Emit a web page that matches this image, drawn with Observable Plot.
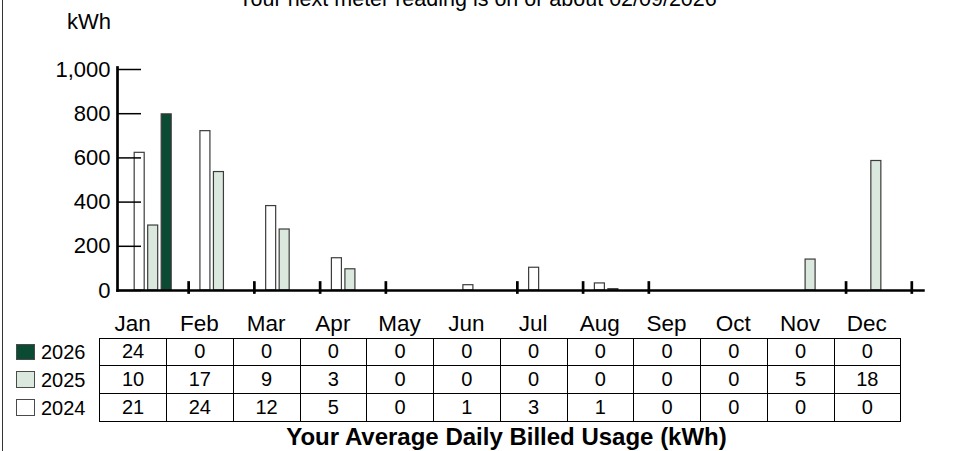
<!DOCTYPE html>
<html><head><meta charset="utf-8">
<script src="https://cdn.jsdelivr.net/npm/d3@7"></script>
<script src="https://cdn.jsdelivr.net/npm/@observablehq/plot@0.6"></script>
<style>
html,body{margin:0;padding:0;background:#fff;}
#root{position:relative;width:955px;height:451px;overflow:hidden;font-family:"Liberation Sans",Arial,Helvetica,sans-serif;color:#000;background:#fff;}
#leftline{position:absolute;left:1.5px;top:0;width:1.6px;height:451px;background:#333;}
#title{position:absolute;left:0;top:-10.7px;width:955px;text-align:center;font-size:21.5px;line-height:1;white-space:nowrap;}
#unit{position:absolute;right:844px;top:11.4px;font-size:22px;line-height:1;}
#chart{position:absolute;left:0;top:0;}
#months{position:absolute;left:99.25px;top:312.7px;display:grid;grid-template-columns:repeat(12,66.75px);font-size:22.5px;line-height:1;}
#months div{text-align:center;}
#table{position:absolute;left:99.25px;top:337.5px;display:grid;grid-template-columns:repeat(12,66.75px);grid-auto-rows:27.8px;border-left:1.5px solid #000;border-top:1.5px solid #000;font-size:20px;}
#table div{box-sizing:border-box;border-right:1.5px solid #000;border-bottom:1.5px solid #000;display:flex;align-items:center;justify-content:center;}
#legend{position:absolute;left:16px;top:339px;display:grid;grid-auto-rows:27.8px;font-size:20px;}
#legend .row{display:flex;align-items:center;}
#legend .sw{box-sizing:border-box;width:19px;height:16.5px;border:1.3px solid #4a4a4a;margin-right:6px;margin-top:-2px;}
#caption{position:absolute;left:106px;top:425.4px;width:801px;text-align:center;font-size:24px;font-weight:bold;line-height:1;white-space:nowrap;}
</style></head>
<body><div id="root">
<div id="leftline"></div>
<div id="title"></div>
<div id="unit"></div>
<div id="chart"></div>
<div id="months"></div>
<div id="legend"></div>
<div id="table"></div>
<div id="caption"></div>
</div>
<script>
// ---- data ----
const titleText = "Your next meter reading is on or about 02/09/2026";
const unitText = "kWh";
const captionText = "Your Average Daily Billed Usage (kWh)";
const months = ["Jan","Feb","Mar","Apr","May","Jun","Jul","Aug","Sep","Oct","Nov","Dec"];
const years = [2024, 2025, 2026];
const tableYears = [2026, 2025, 2024];
// monthly kWh (bars)
const kwh2024 = [623, 721, 382, 146, 0, 24, 103, 32, 0, 0, 0, 0];
const kwh2025 = [294, 536, 276, 96, 0, 0, 0, 6, 0, 0, 140, 586];
const kwh2026 = [797, 0, 0, 0, 0, 0, 0, 0, 0, 0, 0, 0];
// average daily kWh (table)
const avg2024 = [21, 24, 12, 5, 0, 1, 3, 1, 0, 0, 0, 0];
const avg2025 = [10, 17, 9, 3, 0, 0, 0, 0, 0, 0, 5, 18];
const avg2026 = [24, 0, 0, 0, 0, 0, 0, 0, 0, 0, 0, 0];
const yTicks = [0, 200, 400, 600, 800, 1000];

// ---- styles ----
const yearColors = ["#ffffff", "#dbe8de", "#0b4a33"];
const barStroke = "#3c3c3c";

const kwhByYear = {2024: kwh2024, 2025: kwh2025, 2026: kwh2026};
const avgByYear = {2024: avg2024, 2025: avg2025, 2026: avg2026};
const rows = years.flatMap(y => months.map((m, i) => ({month: m, year: y, kwh: kwhByYear[y][i]})));

document.getElementById("title").textContent = titleText;
document.getElementById("unit").textContent = unitText;
document.getElementById("caption").textContent = captionText;

const chart = Plot.plot({
  width: 955,
  height: 300,
  marginLeft: 122.4,
  marginRight: 43.7,
  marginTop: 69,
  marginBottom: 10,
  style: {fontFamily: "'Liberation Sans', Arial, sans-serif", fontSize: "22px", color: "#000", background: "transparent", overflow: "visible"},
  fx: {domain: months, padding: 0, axis: null, round: false},
  x: {domain: years, paddingInner: 0.259, paddingOuter: 1.064, align: 0.41, axis: null, round: false},
  y: {domain: [0, 1000], axis: null},
  color: {domain: years, range: yearColors},
  marks: [
    Plot.barY(rows.filter(d => d.kwh > 0), {fx: "month", x: "year", y: "kwh", fill: "year", stroke: barStroke, strokeWidth: 1.2}),
    Plot.frame({anchor: "right", insetTop: 213, insetBottom: -2, stroke: "#000", strokeWidth: 2.7}),
    Plot.frame({anchor: "bottom", facet: "super", insetLeft: -5.4, insetRight: -11.7, stroke: "#000", strokeWidth: 2.5}),
    Plot.frame({anchor: "left", facet: "super", dx: -5.4, insetTop: -2, stroke: "#000", strokeWidth: 2.7}),
    Plot.axisY(yTicks, {facetAnchor: "left", tickSize: -24, tickPadding: 31, dx: -5.4, tickFormat: d3.format(","), fontSize: 22, strokeWidth: 1.5, label: null})
  ]
});
document.getElementById("chart").appendChild(chart);

// month header
const mh = d3.select("#months");
mh.selectAll("div").data(months).join("div").text(d => d);

// legend
const lg = d3.select("#legend");
const lrows = lg.selectAll("div.row").data(tableYears).join("div").attr("class", "row");
lrows.append("div").attr("class", "sw").style("background", d => yearColors[years.indexOf(d)]);
lrows.append("span").text(d => d);

// table
const cells = tableYears.flatMap(y => avgByYear[y]);
d3.select("#table").selectAll("div").data(cells).join("div").text(d => d);
</script>
</body></html>
